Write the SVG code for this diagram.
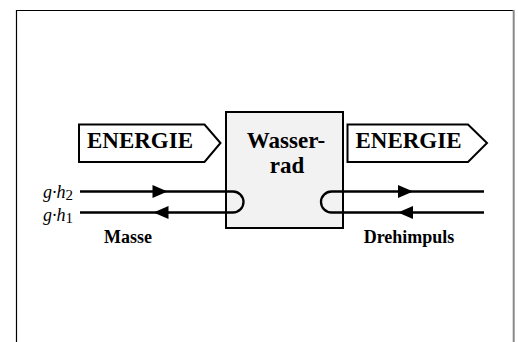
<svg xmlns="http://www.w3.org/2000/svg" width="518" height="342" viewBox="0 0 518 342">
<style>
.frame{stroke:#000;stroke-width:1.2;fill:none}
.edge{stroke:#8a8a8a;stroke-width:2;fill:none}
.box{fill:#f2f2f2;stroke:#000;stroke-width:2}
.energy{fill:#fff;stroke:#000;stroke-width:2;stroke-linejoin:miter}
.big{font-family:"Liberation Serif","Times New Roman",serif;font-weight:bold;font-size:23px;fill:#000;text-anchor:middle}
.lab{font-family:"Liberation Serif","Times New Roman",serif;font-weight:bold;font-size:18px;fill:#000;text-anchor:middle}
.var{font-family:"Liberation Serif","Times New Roman",serif;font-style:italic;font-size:18px;fill:#000}
.sub{font-style:normal;font-size:15px}
.flow{stroke:#000;stroke-width:2.3;fill:none}
.head{fill:#000;stroke:none}
</style>
<g id="frame">
<path class="frame" d="M16.5,342 V10.5 H513"/>
<line class="edge" x1="513.7" y1="10" x2="513.7" y2="342"/>
</g>
<g id="wasserrad">
<rect class="box" x="226" y="112" width="117" height="116"/>
<text class="big" x="286" y="148">Wasser-</text>
<text class="big" x="287" y="173">rad</text>
</g>
<g id="energie-in">
<polygon class="energy" points="79,124.5 204.5,124.5 220.5,143 204.5,162 79,162"/>
<text class="big" x="140" y="148">ENERGIE</text>
</g>
<g id="energie-out">
<polygon class="energy" points="347.5,124.5 468,124.5 487,143 468,162 347.5,162"/>
<text class="big" x="408.5" y="148">ENERGIE</text>
</g>
<g id="connectors">
<path class="flow" d="M80,191.5 H233 A10.5,10.5 0 0 1 233,212.5 H80"/>
<path class="flow" d="M484,191.5 H331.5 A10.5,10.5 0 0 0 331.5,212.5 H484"/>
<polygon class="head" points="152.5,185 167.5,191.5 152.5,198"/>
<polygon class="head" points="168.5,206 153.5,212.5 168.5,219"/>
<polygon class="head" points="398,185 413,191.5 398,198"/>
<polygon class="head" points="413,206 398,212.5 413,219"/>
</g>
<g id="labels">
<text class="var" x="43" y="198">g·h<tspan class="sub" dy="2">2</tspan></text>
<text class="var" x="43" y="221">g·h<tspan class="sub" dy="2">1</tspan></text>
<text class="lab" x="128" y="243">Masse</text>
<text class="lab" x="409" y="243">Drehimpuls</text>
</g>
</svg>
